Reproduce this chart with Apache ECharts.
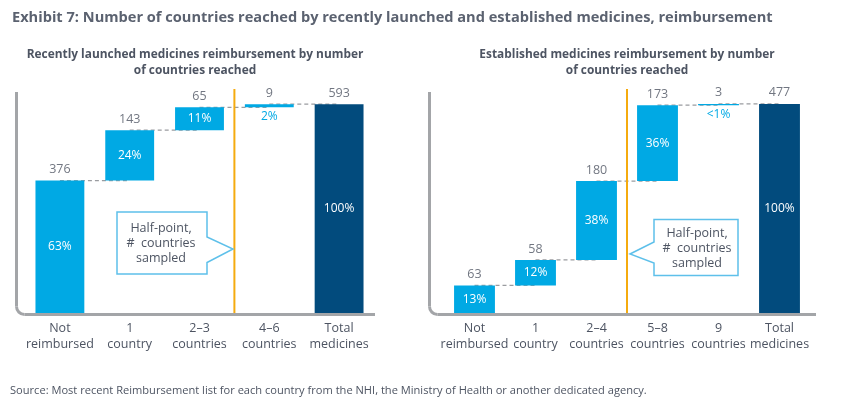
<!DOCTYPE html>
<html>
<head>
<meta charset="utf-8">
<script src="https://cdn.jsdelivr.net/npm/echarts@6/dist/echarts.min.js"></script>
<style>html,body{margin:0;padding:0;background:#fff}#c{width:852px;height:397px}</style>
</head>
<body>
<div id="c"></div>
<script>
// ---- data ----
const leftCategories = ['Not\nreimbursed', '1\ncountry', '2–3\ncountries', '4–6\ncountries', 'Total\nmedicines'];
const leftValues = [376, 143, 65, 9, 593];
const leftPercents = ['63%', '24%', '11%', '2%', '100%'];
const leftHalfPoint = 3;

const rightCategories = ['Not\nreimbursed', '1\ncountry', '2–4\ncountries', '5–8\ncountries', '9\ncountries', 'Total\nmedicines'];
const rightValues = [63, 58, 180, 173, 3, 477];
const rightPercents = ['13%', '12%', '38%', '36%', '<1%', '100%'];
const rightHalfPoint = 3;

const FONT = '"Open Sans", "Noto Sans", sans-serif';
const TXT = '#4d5462';
const BLUE = '#00a9e4';
const NAVY = '#024b7d';
const ORANGE = '#f5ab0f';

const chart = echarts.init(document.getElementById('c'));

const grids = [
  { left: 25, width: 349, top: 89, bottom: 84 },
  { left: 444, width: 366, top: 89, bottom: 84 }
];
const maxes = [636, 511];

const xAxes = [], yAxes = [], series = [];

function build(idx, cats, vals, pcts, half, barW) {
  const n = cats.length;
  const max = maxes[idx];
  const base = [], tops = [];
  let cum = 0;
  for (let i = 0; i < n; i++) {
    if (i === n - 1) { base.push(0); tops.push(vals[i]); }
    else { base.push(cum); cum += vals[i]; tops.push(cum); }
  }
  xAxes.push({
    type: 'category', gridIndex: idx, data: cats,
    axisLine: { show: false }, axisTick: { show: false },
    axisLabel: { color: TXT, fontFamily: FONT, fontSize: 12.5, lineHeight: 15.5, margin: 8, interval: 0 }
  });
  xAxes.push({ type: 'value', gridIndex: idx, min: 0, max: n, show: false });
  yAxes.push({ type: 'value', gridIndex: idx, min: 0, max: max, show: false, splitLine: { show: false } });
  const catX = idx * 2, valX = idx * 2 + 1;
  const stack = 'w' + idx;
  // connectors
  const conn = [];
  for (let i = 0; i < n - 1; i++) {
    conn.push([i + 0.5, tops[i]], [i + 1.5, tops[i]], '-');
  }
  series.push({
    type: 'line', xAxisIndex: valX, yAxisIndex: idx, data: conn, z: 1, silent: true,
    symbol: 'none', connectNulls: false,
    lineStyle: { color: '#9a9ca0', width: 1.3, type: [4, 3] }
  });
  series.push({
    type: 'bar', xAxisIndex: catX, yAxisIndex: idx, stack: stack, data: base,
    barWidth: barW, itemStyle: { color: 'transparent' }, silent: true, z: 2
  });
  series.push({
    type: 'bar', xAxisIndex: catX, yAxisIndex: idx, stack: stack, barWidth: barW, z: 2,
    data: vals.map((v, i) => {
      const thin = v / vals[n - 1] < 0.03;
      return {
        value: v,
        itemStyle: { color: i === n - 1 ? NAVY : BLUE },
        label: thin
          ? { show: true, position: 'bottom', distance: 3, color: BLUE, formatter: pcts[i] }
          : { show: true, position: 'inside', color: '#fff', formatter: pcts[i] }
      };
    }),
    label: { fontFamily: FONT, fontSize: 12 }
  });
  // value labels above bars
  series.push({
    type: 'scatter', xAxisIndex: catX, yAxisIndex: idx, symbolSize: 1, silent: true, z: 4,
    itemStyle: { color: 'transparent' },
    data: tops.map((t, i) => [i, t]),
    label: {
      show: true, position: 'top', distance: 4, color: TXT, fontFamily: FONT, fontSize: 12.5,
      formatter: p => String(vals[p.dataIndex])
    }
  });
  // half-point line
  series.push({
    type: 'line', xAxisIndex: valX, yAxisIndex: idx, data: [[half, 0], [half, max]], z: 3,
    symbol: 'none', silent: true, lineStyle: { color: ORANGE, width: 2 }
  });
}

build(0, leftCategories, leftValues, leftPercents, leftHalfPoint, '70%');
build(1, rightCategories, rightValues, rightPercents, rightHalfPoint, '67%');

const frameStyle = { stroke: '#a3a5a8', lineWidth: 3, fill: null };
const calloutStyle = { stroke: '#5ec0ea', lineWidth: 1.5, fill: '#fff' };
const calloutFont = '12.5px ' + FONT;

function frame(x0, x1) {
  const yb = 314.5, r = 8;
  return [
    { type: 'line', shape: { x1: x0, y1: 92, x2: x0, y2: yb - r }, style: frameStyle, z: 5 },
    { type: 'arc', shape: { cx: x0 + r, cy: yb - r, r: r, startAngle: Math.PI / 2, endAngle: Math.PI, clockwise: true }, style: frameStyle, z: 5 },
    { type: 'line', shape: { x1: x0 + r, y1: yb, x2: x1, y2: yb }, style: frameStyle, z: 5 }
  ];
}

function calloutText(x, y0) {
  return ['Half-point,', '#  countries', 'sampled'].map((t, k) => ({
    type: 'text', x: x, y: y0 + k * 15,
    style: { text: t, font: calloutFont, fill: TXT, align: 'center', verticalAlign: 'middle' }, z: 7
  }));
}

chart.setOption({
  animation: false,
  title: [
    { text: 'Exhibit 7: Number of countries reached by recently launched and established medicines, reimbursement',
      left: 12, top: 10, padding: 0, textStyle: { fontFamily: FONT, fontSize: 14.6, fontWeight: 'bold', color: '#5b6270' } },
    { text: 'Recently launched medicines reimbursement by number\nof countries reached',
      left: 195, top: 47, padding: 0, textAlign: 'center',
      textStyle: { fontFamily: FONT, fontSize: 11.9, fontWeight: 'bold', color: TXT, lineHeight: 15.5 } },
    { text: 'Established medicines reimbursement by number\nof countries reached',
      left: 627, top: 47, padding: 0, textAlign: 'center',
      textStyle: { fontFamily: FONT, fontSize: 11.9, fontWeight: 'bold', color: TXT, lineHeight: 15.5 } },
    { text: 'Source: Most recent Reimbursement list for each country from the NHI, the Ministry of Health or another dedicated agency.',
      left: 10, top: 385, padding: 0, textStyle: { fontFamily: FONT, fontSize: 11.1, fontWeight: 'normal', color: TXT } }
  ],
  grid: grids,
  xAxis: xAxes,
  yAxis: yAxes,
  series: series,
  graphic: [].concat(
    frame(16.5, 375),
    frame(429.5, 816),
    [
      { type: 'polygon', shape: { points: [[117,212],[207,212],[207,237],[233,249],[207,262.5],[207,274],[117,274]] }, style: calloutStyle, z: 6 },
      { type: 'polygon', shape: { points: [[654,219.5],[738,219.5],[738,275.5],[654,275.5],[654,263],[630,254],[654,242]] }, style: calloutStyle, z: 6 }
    ],
    calloutText(161, 228),
    calloutText(697, 233)
  )
});
</script>
</body>
</html>
